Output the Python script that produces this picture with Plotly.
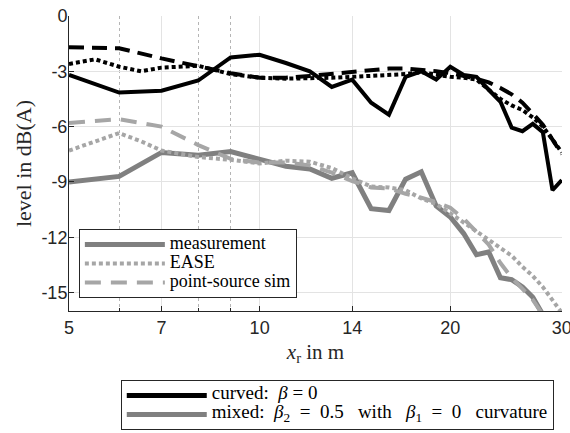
import math
import plotly.graph_objects as go

# ---- data ----
x_m = list(range(5, 31))
ease_x = [5, 5.5, 6, 6.5, 7, 8, 9] + list(range(10, 31))

curved_meas = [-3.2, -4.15, -4.05, -3.5, -2.25, -2.1, -2.55, -3.0, -3.85, -3.45, -4.7, -5.35, -3.3,
               -3.0, -3.45, -2.75, -3.2, -3.3, -4.0, -4.65, -6.05, -6.25, -5.85, -6.3, -9.45, -8.9]
curved_sim = [-1.7, -1.75, -2.3, -2.75, -3.1, -3.35, -3.35, -3.25, -3.15, -3.05, -2.95, -2.85, -2.85,
              -2.9, -3.0, -3.1, -3.25, -3.4, -3.6, -3.9, -4.25, -4.7, -5.3, -5.9, -6.7, -7.5]
curved_ease = [-2.6, -2.35, -2.75, -3.0, -2.8, -2.7, -3.15, -3.35, -3.4, -3.4, -3.35, -3.3, -3.25, -3.2,
               -3.15, -3.05, -3.2, -3.3, -3.35, -3.45, -4.0, -4.5, -4.85, -5.1, -5.5, -6.0, -6.7, -7.4]

mixed_meas = [-9.0, -8.7, -7.4, -7.55, -7.35, -7.8, -8.15, -8.3, -8.8, -8.5, -10.45, -10.55, -8.85,
              -8.45, -10.3, -10.9, -11.8, -12.95, -12.8, -14.2, -14.3, -14.7, -15.25, -16.2, -17.5, -18.5]
mixed_sim = [-5.8, -5.6, -6.0, -7.0, -7.75, -7.95, -7.95, -8.1, -8.5, -8.95, -9.3, -9.35, -9.65,
             -9.85, -10.1, -10.4, -11.0, -11.7, -12.4, -13.4, -14.2, -14.8, -15.4, -16.2, -17.0, -17.8]
mixed_ease = [-7.3, -6.8, -6.35, -6.8, -7.3, -7.65, -7.8, -8.0, -7.85, -7.9, -8.25, -8.8, -9.25, -9.3,
              -9.45, -9.9, -10.2, -10.7, -11.2, -11.7, -12.1, -12.6, -13.0, -13.6, -14.1, -14.7, -15.4, -16.1]

x_ticks = [5, 7, 10, 14, 20, 30]
x_minor = [6, 8, 9]
y_ticks = [-15, -12, -9, -6, -3, 0]
y_ticklabels = ["-15", "-12", "-9", "-6", "-3", "0"]

BLACK = "#000000"
GREY = "#808080"
LGREY = "#a6a6a6"
SERIF = "Liberation Serif"
SANS = "Liberation Sans"
SP = "\u00a0"


def big(t, px):
    return '<span style="font-size:%dpx">%s</span>' % (px, t)


fig = go.Figure()

# curved (black)
fig.add_trace(go.Scatter(x=ease_x, y=curved_ease, mode="lines", showlegend=False,
                         line=dict(color=BLACK, width=4, dash="4px,3px")))
fig.add_trace(go.Scatter(x=x_m, y=curved_sim, mode="lines", showlegend=False,
                         line=dict(color=BLACK, width=4, dash="15px,8px")))
fig.add_trace(go.Scatter(x=x_m, y=curved_meas, mode="lines", showlegend=False,
                         line=dict(color=BLACK, width=4)))

# mixed (grey)
fig.add_trace(go.Scatter(x=x_m, y=mixed_meas, mode="lines", name=big("measurement", 18),
                         legend="legend", line=dict(color=GREY, width=5)))
fig.add_trace(go.Scatter(x=ease_x, y=mixed_ease, mode="lines", name=big("EASE", 18),
                         legend="legend", line=dict(color=LGREY, width=4, dash="4px,3px")))
fig.add_trace(go.Scatter(x=x_m, y=mixed_sim, mode="lines", name=big("point-source sim", 18),
                         legend="legend", line=dict(color=LGREY, width=4, dash="16px,10px")))

# bottom legend entries
curved_label = "curved:" + SP * 2 + "<i>β</i>" + SP + "=" + SP + "0"
mixed_label = ("mixed:" + SP * 2 + "<i>β</i><sub>2</sub>" + SP * 2 + "=" + SP * 2 + "0.5" + SP * 3 +
               "with" + SP * 3 + "<i>β</i><sub>1</sub>" + SP * 2 + "=" + SP * 2 + "0" + SP * 3 + "curvature")
fig.add_trace(go.Scatter(x=[None], y=[None], mode="lines", name=big(curved_label, 19),
                         legend="legend2", line=dict(color=BLACK, width=5)))
fig.add_trace(go.Scatter(x=[None], y=[None], mode="lines", name=big(mixed_label, 19),
                         legend="legend2", line=dict(color=GREY, width=5)))

fig.update_layout(
    width=570, height=433,
    margin=dict(l=69, r=8, t=16, b=122, autoexpand=False),
    paper_bgcolor="white", plot_bgcolor="white",
    font=dict(family=SANS, size=18, color="#262626"),
    legend=dict(x=0.02, y=0.278, xanchor="left", yanchor="top",
                bgcolor="white", bordercolor="#262626", borderwidth=1,
                font=dict(family=SERIF, size=12, color="#000"),
                itemwidth=80, tracegroupgap=0),
    legend2=dict(x=0.105, y=-0.234, xanchor="left", yanchor="top",
                 bgcolor="white", bordercolor="#262626", borderwidth=1,
                 font=dict(family=SERIF, size=10, color="#000"),
                 itemwidth=80, tracegroupgap=0),
)

fig.update_xaxes(
    type="log", range=[math.log10(5), math.log10(30) + 0.0003],
    automargin=False, ticklabeloverflow="allow",
    tickvals=x_ticks, ticktext=[str(v) for v in x_ticks],
    ticks="inside", ticklen=5, tickcolor="#262626",
    showline=True, linecolor="#262626", linewidth=1,
    showgrid=True, gridcolor="#e3e3e3", gridwidth=1,
    zeroline=False,
    tickfont=dict(family=SANS, size=18, color="#262626"),
    minor=dict(tickvals=x_minor, ticks="inside", ticklen=3, tickcolor="#262626",
               showgrid=True, gridcolor="#b5b5b5", griddash="dot", gridwidth=1),
    title=dict(text="<i>x</i><sub>r</sub> in m", font=dict(family=SERIF, size=21, color="#262626"),
               standoff=7),
)
fig.update_yaxes(
    range=[-16, 0],
    automargin=False, ticklabelstandoff=-3,
    tickvals=y_ticks, ticktext=y_ticklabels,
    ticks="inside", ticklen=5, tickcolor="#262626",
    showline=True, linecolor="#262626", linewidth=1,
    showgrid=True, gridcolor="#e3e3e3", gridwidth=1,
    zeroline=False,
    tickfont=dict(family=SANS, size=18, color="#262626"),
    title=dict(text="level in dB(A)", font=dict(family=SERIF, size=22, color="#262626"),
               standoff=3),
)

fig.write_html("out.html", config={"displayModeBar": False},
               post_script="document.body.style.margin='0';document.body.style.padding='0';")
